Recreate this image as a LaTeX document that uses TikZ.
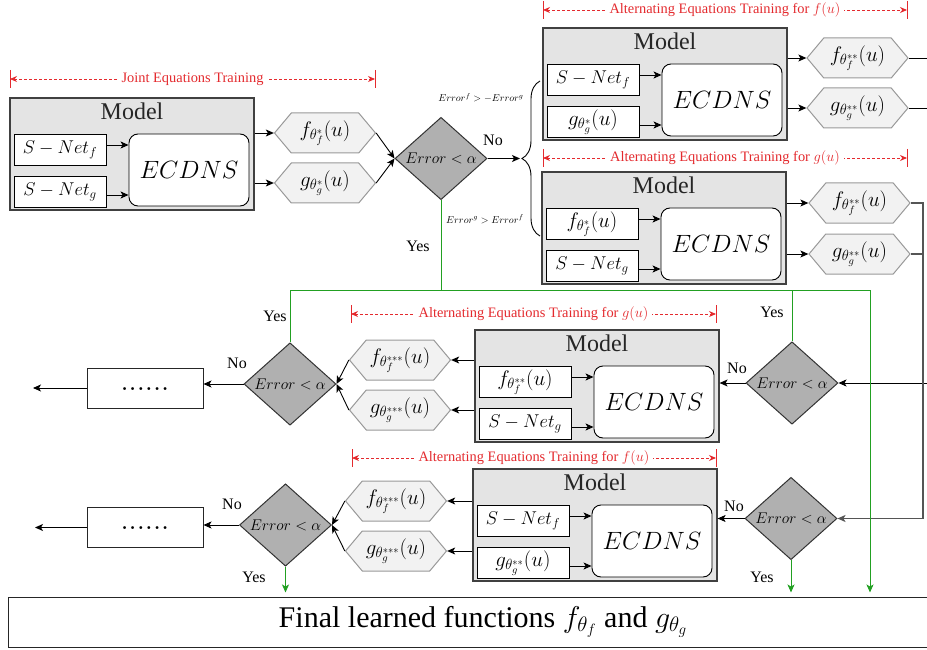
\RequirePackage{fix-cm}
\documentclass[tikz,border=0pt]{standalone}
\usepackage[no-math]{fontspec}
\setmainfont{Liberation Serif}
\usetikzlibrary{arrows.meta,shapes.geometric,shapes.symbols,decorations.pathreplacing}
\definecolor{modelfill}{HTML}{E4E4E4}
\definecolor{modeldraw}{HTML}{404040}
\definecolor{hexfill}{HTML}{F2F2F2}
\definecolor{hexdraw}{HTML}{999999}
\definecolor{diafill}{HTML}{B0B0B0}
\definecolor{diadraw}{HTML}{333333}
\definecolor{redc}{HTML}{E42A2E}
\definecolor{greenc}{HTML}{22A022}
\definecolor{grayline}{HTML}{555555}
\newcommand{\thlabel}[1]{{\fontsize{21}{24}\selectfont #1}}
\tikzset{
  modelbox/.style={draw=modeldraw, fill=modelfill, line width=1.2pt, minimum width=244pt, minimum height=112pt, inner sep=0pt},
  modeltitle/.style={inner sep=0pt, font=\fontsize{24}{28}\selectfont, text=black!85},
  inbox/.style={draw=black, fill=white, line width=0.9pt, minimum width=92pt, minimum height=31pt, inner sep=0pt, font=\fontsize{18.5}{21}\selectfont},
  ecdns/.style={draw=black, fill=white, line width=0.9pt, rounded corners=9pt, minimum width=120pt, minimum height=72pt, inner sep=0pt, font=\fontsize{25}{28}\selectfont},
  hexnode/.style={signal, signal to=west and east, signal pointer angle=100, draw=hexdraw, fill=hexfill, line width=1pt, minimum width=101pt, minimum height=40pt, inner sep=0pt, font=\fontsize{21}{24}\selectfont},
  dia/.style={diamond, draw=diadraw, fill=diafill, line width=1pt, minimum width=92pt, minimum height=71pt, inner sep=0pt, font=\fontsize{15.5}{18}\selectfont},
  dotsbox/.style={draw=black!85, fill=white, line width=1pt, minimum width=116pt, minimum height=40pt, inner sep=0pt, font=\fontsize{30}{32}\selectfont},
  finalbox/.style={draw=black!85, fill=white, line width=1pt, minimum width=950pt, minimum height=50pt, inner sep=0pt, font=\fontsize{30}{33}\selectfont},
  lbl/.style={inner sep=0pt, font=\fontsize{16}{18}\selectfont},
  smalllbl/.style={inner sep=0pt, font=\fontsize{10}{12}\selectfont},
  arr/.style={-{Stealth[length=8pt,width=7pt,inset=2pt]}, line width=0.9pt, draw=black},
  plain/.style={line width=0.9pt, draw=black},
  grayarr/.style={-{Stealth[length=8pt,width=7pt,inset=2pt]}, line width=1.1pt, draw=grayline},
  gline/.style={line width=1pt, draw=greenc},
  garr/.style={-{Stealth[length=8pt,width=7pt,inset=2pt]}, line width=1pt, draw=greenc, shorten >=4pt},
  redtick/.style={draw=redc, line width=1pt},
  reddash/.style={draw=redc, line width=0.9pt, dash pattern=on 3pt off 2pt, {Stealth[length=7pt,width=6pt]}-{Stealth[length=7pt,width=6pt]}},
  redtxt/.style={fill=white, text=redc, inner sep=4pt, font=\fontsize{14.4}{16}\selectfont},
}
\newcommand{\modelblock}[5]{%
  \begin{scope}[shift={(#2,#3)}]
    \node[modelbox] (#1) at (122,56) {};
    \node[modeltitle] (#1t) at (122,13) {Model};
    \node[inbox] (#1a) at (50,52) {#4};
    \node[inbox] (#1b) at (50,94) {#5};
    \node[ecdns] (#1e) at (179,72) {$ECDNS$};
    \path ([yshift=5pt]#1a.east) coordinate (#1p);
    \path ([yshift=-3pt]#1b.east) coordinate (#1q);
    \draw[arr] (#1p) -- (#1p -| #1e.west);
    \draw[arr] (#1q) -- (#1q -| #1e.west);
  \end{scope}}
\newcommand{\redspan}[5]{%
  \coordinate (#1l) at (#2,#4);
  \coordinate (#1r) at (#3,#4);
  \draw[redtick] ([yshift=9pt]#1l) -- ([yshift=-9pt]#1l);
  \draw[redtick] ([yshift=9pt]#1r) -- ([yshift=-9pt]#1r);
  \draw[reddash] (#1l) -- node[redtxt] (#1t) {#5} (#1r);}
\begin{document}
\begin{tikzpicture}[x=1pt,y=-1pt]
\useasboundingbox (0,0) rectangle (927,650);

% red spans
\redspan{rj}{10}{375}{79}{Joint Equations Training}
\redspan{ra}{543}{907}{10}{Alternating Equations Training for $f(u)$}
\redspan{rb}{543}{907}{158}{Alternating Equations Training for $g(u)$}
\redspan{rc}{351}{716}{314}{Alternating Equations Training for $g(u)$}
\redspan{rd}{352}{716}{458}{Alternating Equations Training for $f(u)$}

% model blocks
\modelblock{ma}{10}{98}{$S-Net_f$}{$S-Net_g$}
\modelblock{mb}{543}{28}{$S-Net_f$}{\thlabel{$g_{\theta^{*}_g}(u)$}}
\modelblock{mc}{542}{172}{\thlabel{$f_{\theta^{*}_f}(u)$}}{$S-Net_g$}
\modelblock{md}{475}{330}{\thlabel{$f_{\theta^{**}_f}(u)$}}{$S-Net_g$}
\modelblock{me}{473}{469}{$S-Net_f$}{\thlabel{$g_{\theta^{**}_g}(u)$}}

% hexagons
\node[hexnode] (h1f) at (325,133) {$f_{\theta^{*}_f}(u)$};
\node[hexnode] (h1g) at (325,183) {$g_{\theta^{*}_g}(u)$};
\node[hexnode] (h2f) at (857.5,58) {$f_{\theta^{**}_f}(u)$};
\node[hexnode] (h2g) at (857.5,108) {$g_{\theta^{**}_g}(u)$};
\node[hexnode] (h3f) at (859.5,203) {$f_{\theta^{**}_f}(u)$};
\node[hexnode] (h3g) at (859.5,254) {$g_{\theta^{**}_g}(u)$};
\node[hexnode] (h4f) at (400,360) {$f_{\theta^{***}_f}(u)$};
\node[hexnode] (h4g) at (400,410) {$g_{\theta^{***}_g}(u)$};
\node[hexnode] (h5f) at (396,501) {$f_{\theta^{***}_f}(u)$};
\node[hexnode] (h5g) at (396,551) {$g_{\theta^{***}_g}(u)$};

% diamonds
\node[dia] (d1) at (441,158.5) {$Error<\alpha$};
\node[dia] (dl1) at (290,384) {$Error<\alpha$};
\node[dia] (dr1) at (792,383) {$Error<\alpha$};
\node[dia] (dl2) at (285.5,525) {$Error<\alpha$};
\node[dia] (dr2) at (791,518.5) {$Error<\alpha$};

% dots boxes
\node[dotsbox] (db1) at (145,388) {\raisebox{-4pt}{$......$}};
\node[dotsbox] (db2) at (145,527.5) {\raisebox{-4pt}{$......$}};
\coordinate (out1) at (33,388);
\coordinate (out2) at (35,527.5);

% final box
\node[finalbox] (final) at (483,622) {Final learned functions $f_{\theta_f}$ and $g_{\theta_g}$};

% top-left flow
\draw[arr] (h1f.west -| ma.east) -- (h1f.west);
\draw[arr] (h1g.west -| ma.east) -- (h1g.west);
\draw[arr] (h1f.east) -- (d1.west);
\draw[arr] (h1g.east) -- (d1.west);
\coordinate (bt) at (520,158.5);
\draw[arr] (d1.east) -- (bt);
\draw[plain, decorate, decoration={brace, amplitude=18pt}] (540,236) -- (540,81);
\node[smalllbl] (c1) at (481,98) {$Error^f >- Error^g$};
\node[smalllbl] (c2) at (485,219) {$Error^g > Error^f$};
\node[lbl] (no1) at (493,140) {No};
\node[lbl] (yes1) at (418,246) {Yes};

% top-right flows
\draw[arr] (h2f.west -| mb.east) -- (h2f.west);
\draw[arr] (h2g.west -| mb.east) -- (h2g.west);
\draw[arr] (h3f.west -| mc.east) -- (h3f.west);
\draw[arr] (h3g.west -| mc.east) -- (h3g.west);
\coordinate (edge) at (930,0);
\coordinate (rv) at (923,0);
\draw[plain] (h2f.east) -- (h2f.east -| edge);
\draw[plain] (h2g.east) -- (h2g.east -| edge);
\draw[arr] (dr1.east -| edge) -- (dr1.east);
\draw[grayarr] (h3f.east) -- (h3f.east -| rv) -- (dr2.east -| rv) -- (dr2.east);
\draw[draw=grayline, line width=1.1pt] (h3g.east) -- (h3g.east -| rv);

% row 3
\draw[arr] (dr1.west) -- (dr1.west -| md.east);
\draw[arr] (h4f.east -| md.west) -- (h4f.east);
\draw[arr] (h4g.east -| md.west) -- (h4g.east);
\draw[arr] (h4f.west) -- (dl1.east);
\draw[arr] (h4g.west) -- (dl1.east);
\draw[arr] (dl1.west) -- (dl1.west -| db1.east);
\draw[arr] (db1.west) -- (out1);
\node[lbl] (no2) at (737,368) {No};
\node[lbl] (no3) at (237,363) {No};
\node[lbl] (yes2) at (772,312) {Yes};
\node[lbl] (yes3) at (275,316) {Yes};

% row 4
\draw[arr] (dr2.west) -- (dr2.west -| me.east);
\draw[arr] (h5f.east -| me.west) -- (h5f.east);
\draw[arr] (h5g.east -| me.west) -- (h5g.east);
\draw[arr] (h5f.west) -- (dl2.east);
\draw[arr] (h5g.west) -- (dl2.east);
\draw[arr] (dl2.west) -- (dl2.west -| db2.east);
\draw[arr] (db2.west) -- (out2);
\node[lbl] (no4) at (734,506) {No};
\node[lbl] (no5) at (232,504) {No};
\node[lbl] (yes4) at (762,577) {Yes};
\node[lbl] (yes5) at (254,577) {Yes};

% green yes routes
\coordinate (busL) at (290,290);
\coordinate (busR) at (870,290);
\draw[gline] (d1.south) -- (d1.south |- busL);
\draw[gline] (dl1.north) -- (busL) -- (busR);
\draw[gline] (dr1.north) -- (dr1.north |- busR);
\draw[garr] (busR) -- (busR |- final.north);
\draw[garr] (dr2.south) -- (dr2.south |- final.north);
\draw[garr] (dl2.south) -- (dl2.south |- final.north);
\end{tikzpicture}
\end{document}
